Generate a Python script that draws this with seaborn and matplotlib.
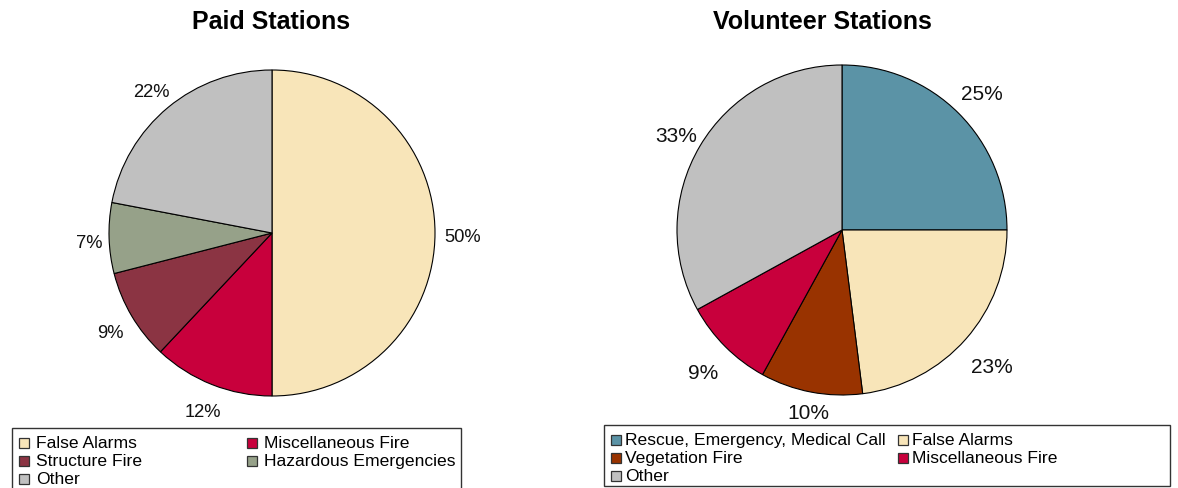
import numpy as np
import matplotlib
matplotlib.use("Agg")
import matplotlib.pyplot as plt
import seaborn as sns
from matplotlib.patches import Rectangle

sns.set_theme(style="white")
plt.rcParams["font.family"] = ["Liberation Sans", "DejaVu Sans"]
plt.rcParams["text.color"] = "black"

# Paid stations: incident share by type (percent)
paid_labels = ["False Alarms", "Miscellaneous Fire", "Structure Fire",
               "Hazardous Emergencies", "Other"]
paid_values = [50, 12, 9, 7, 22]
paid_colors = ["#F8E5B9", "#C8003C", "#8B3443", "#96A189", "#C0C0C0"]

# Volunteer stations: incident share by type (percent)
vol_labels = ["Rescue, Emergency, Medical Call", "False Alarms",
              "Vegetation Fire", "Miscellaneous Fire", "Other"]
vol_values = [25, 23, 10, 9, 33]
vol_colors = ["#5B93A6", "#F8E5B9", "#993300", "#C8003C", "#C0C0C0"]

# radial placement of each percentage label (fraction of the radius)
paid_label_r = [1.17, 1.15, 1.15, 1.12, 1.16]
vol_label_r = [1.20, 1.21, 1.10, 1.19, 1.17]

W, H = 1178, 489
fig = plt.figure(figsize=(W / 100, H / 100), dpi=100)
LIM = 1.3


def px_axes(cx, cy, r):
    side = 2 * r * LIM
    ax = fig.add_axes([(cx - side / 2) / W, (H - cy - side / 2) / H, side / W, side / H])
    ax.set_axis_off()
    return ax


def draw_pie(ax, values, colors, label_r, fontsize, r_px):
    wedges, _ = ax.pie(values, colors=colors, startangle=90, counterclock=False,
                       wedgeprops=dict(edgecolor="black", linewidth=0.8))
    drop = 4 / r_px  # sit labels a few pixels lower than the geometric centre
    for w, v, d in zip(wedges, values, label_r):
        mid = np.deg2rad((w.theta1 + w.theta2) / 2)
        ax.text(d * np.cos(mid), d * np.sin(mid) - drop, f"{v:g}%",
                ha="center", va="center", fontsize=fontsize, color="#111111")
    ax.set_xlim(-LIM, LIM)
    ax.set_ylim(-LIM, LIM)


ax1 = px_axes(272, 234, 163)
draw_pie(ax1, paid_values, paid_colors, paid_label_r, 13.2, 163)
ax2 = px_axes(842, 231, 165)
draw_pie(ax2, vol_values, vol_colors, vol_label_r, 15, 165)

fig.text(271 / W, 1 - 29 / H, "Paid Stations", ha="center", va="baseline",
         fontsize=18, fontweight="bold")
fig.text(822 / W, 1 - 29 / H, "Volunteer Stations", ha="center", va="baseline",
         fontsize=18, fontweight="bold")


def fig_rect(x0, y0, w, h, **kw):
    # rectangle given in pixel coordinates measured from the top-left corner
    fig.add_artist(Rectangle((x0 / W, 1 - (y0 + h) / H), w / W, h / H,
                             transform=fig.transFigure, **kw))


def box_legend(labels, colors, x0, y0, x1, y1, text_gap, fontsize):
    fig_rect(x0, y0, x1 - x0, y1 - y0, facecolor="none", edgecolor="#333333",
             linewidth=1.0, clip_on=False)
    half = (x1 - x0) / 2
    for i, (lab, col) in enumerate(zip(labels, colors)):
        row, c = divmod(i, 2)
        mx = x0 + 7 + c * (half + 3.5)
        my = y0 + 14.5 + row * 18
        fig_rect(mx, my - 5, 10, 10, facecolor=col, edgecolor="#333333", linewidth=0.9)
        fig.text((mx + 10 + text_gap) / W, 1 - my / H, lab, ha="left", va="center",
                 fontsize=fontsize, color="black")


box_legend(paid_labels, paid_colors, 12, 429, 461, 492, 7, 12.6)
box_legend(vol_labels, vol_colors, 604, 426, 1170, 487, 4, 12.6)

fig.savefig("out.png", dpi=100, facecolor="white")
